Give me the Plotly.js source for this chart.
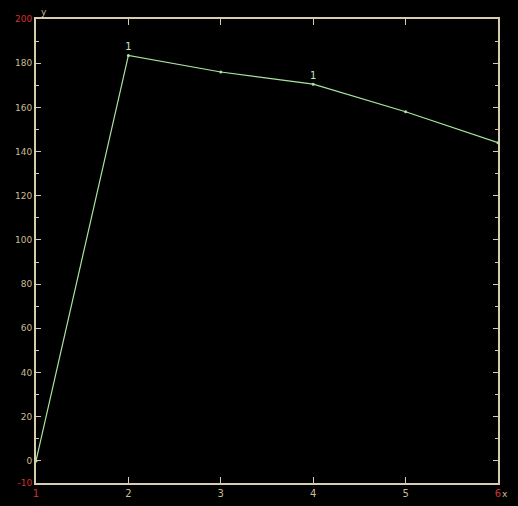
<!DOCTYPE html>
<html><head><meta charset="utf-8">
<script src="https://cdn.plot.ly/plotly-3.0.1.min.js"></script>
<style>html,body{margin:0;padding:0;background:#000;}</style>
</head><body>
<div id="chart" style="width:518px;height:506px;"></div>
<script>
var xValues = [1, 2, 3, 4, 5, 6];
var yValues = [0, 183.5, 176, 170.5, 158, 144];
var pointLabels = ["", "1", "", "1", "", ""];
var xTickVals = [1, 2, 3, 4, 5, 6];
var xTickText = ['<span style="color:#d03030">1</span>', '2', '3', '4', '5', '<span style="color:#d03030">6</span>'];
var yTickVals = [-10, 0, 20, 40, 60, 80, 100, 120, 140, 160, 180, 200];
var yTickText = ['<span style="color:#d03030">-10</span>', '0', '20', '40', '60', '80', '100', '120', '140', '160', '180', '<span style="color:#d03030">200</span>'];

var axisColor = '#d8ccae';
var labelColor = '#c8bc94';

var trace = {
  x: xValues, y: yValues, text: pointLabels,
  mode: 'lines+markers+text', textposition: 'top center',
  textfont: {family: 'DejaVu Sans', size: 10, color: '#c8e8c0'},
  line: {color: '#a8e6a0', width: 1.2},
  marker: {color: '#a8e6a0', size: 3},
  hoverinfo: 'none', cliponaxis: false
};
var layout = {
  width: 518, height: 506,
  paper_bgcolor: '#000', plot_bgcolor: '#000',
  margin: {l: 36, r: 20, t: 19, b: 23},
  showlegend: false,
  font: {family: 'DejaVu Sans', size: 9, color: labelColor},
  xaxis: {
    range: [1, 6], tickvals: xTickVals, ticktext: xTickText,
    showgrid: false, zeroline: false, showline: true, linecolor: axisColor, linewidth: 2,
    mirror: 'allticks', ticks: 'inside', ticklen: 6, tickcolor: axisColor, tickwidth: 1,
    tickfont: {size: 10, color: labelColor}
  },
  yaxis: {
    range: [-10, 200], tickvals: yTickVals, ticktext: yTickText,
    showgrid: false, zeroline: false, showline: true, linecolor: axisColor, linewidth: 2,
    mirror: 'allticks', ticks: 'inside', ticklen: 5, tickcolor: axisColor, tickwidth: 1,
    minor: {dtick: 10, tick0: 0, ticks: 'inside', ticklen: 3, tickcolor: axisColor},
    tickfont: {size: 9, color: labelColor}, ticklabelstandoff: 0
  },
  annotations: [
    {xref: 'paper', yref: 'paper', x: 1.005, y: -0.0, xanchor: 'left', yanchor: 'top', yshift: -4,
     text: 'x', showarrow: false, font: {size: 9, color: labelColor}},
    {xref: 'paper', yref: 'paper', x: 0.0, y: 1.0, xanchor: 'left', yanchor: 'bottom', xshift: 3, yshift: 0,
     text: 'y', showarrow: false, font: {size: 9, color: labelColor}}
  ]
};
Plotly.newPlot('chart', [trace], layout, {displayModeBar: false, staticPlot: true});
</script>
</body></html>
